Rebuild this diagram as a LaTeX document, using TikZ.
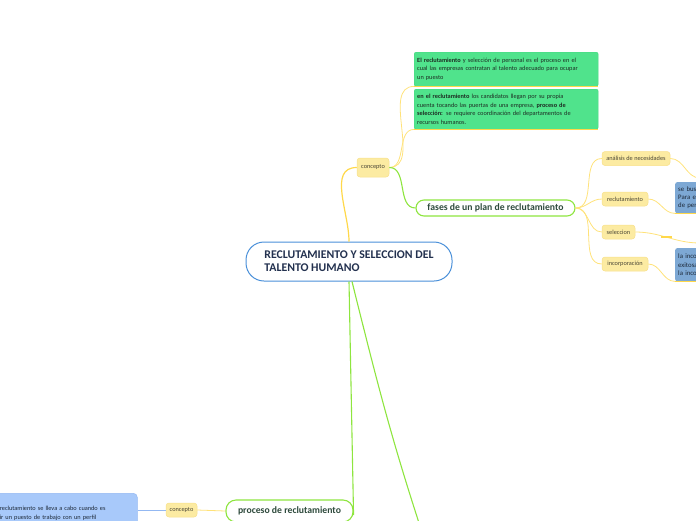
\documentclass[tikz,border=0pt]{standalone}
\usepackage{fontspec}
\setmainfont{Carlito}
\usetikzlibrary{positioning}

\definecolor{rootblue}{HTML}{4A90D9}
\definecolor{rootink}{HTML}{23314F}
\definecolor{limeline}{HTML}{8EE53F}
\definecolor{topicink}{HTML}{2E4A3C}
\definecolor{tagfill}{HTML}{FCEBA2}
\definecolor{tagedge}{HTML}{F8E08A}
\definecolor{tagink}{HTML}{4A4636}
\definecolor{yline}{HTML}{FFE27A}
\definecolor{ylinedeep}{HTML}{FFD84A}
\definecolor{notegreen}{HTML}{50E38C}
\definecolor{notegreenedge}{HTML}{45D57F}
\definecolor{noteink}{HTML}{1E2E24}
\definecolor{steelbox}{HTML}{7DA8D4}
\definecolor{steelink}{HTML}{1E2A3A}
\definecolor{skybox}{HTML}{A8C9FA}
\definecolor{skyedge}{HTML}{93B8F2}

\tikzset{
  rootnode/.style={draw=rootblue, line width=1pt, fill=white, rounded corners=18pt,
    minimum width=206, minimum height=39, align=left, text=rootink,
    font=\fontsize{11.8}{13}\selectfont\bfseries},
  topicnode/.style={draw=limeline, line width=1.1pt, fill=white, rounded corners=8pt,
    minimum height=16, text=topicink, font=\fontsize{9.7}{11}\selectfont\bfseries},
  tagnode/.style={draw=tagedge, line width=0.5pt, fill=tagfill, rounded corners=3pt,
    minimum height=14, inner sep=1pt, text=tagink, font=\fontsize{6.3}{7}\selectfont},
  notenode/.style={draw=notegreenedge, line width=0.4pt, fill=notegreen, rounded corners=2pt,
    anchor=north west, minimum width=184, text width=178, inner xsep=3pt, inner ysep=3pt,
    align=left, text=noteink, font=\fontsize{6.3}{8.5}\selectfont},
  steelnode/.style={fill=steelbox, rounded corners=2pt, anchor=north west, minimum width=40,
    text width=40, inner xsep=3pt, align=left, text=steelink, font=\fontsize{6.8}{8.3}\selectfont},
  skynode/.style={draw=skyedge, line width=0.5pt, fill=skybox, rounded corners=4pt,
    anchor=north west, minimum width=141, minimum height=40, text width=134, inner xsep=3pt,
    inner ysep=4pt, align=left, text=steelink, font=\fontsize{6.3}{9}\selectfont},
  ylink/.style={draw=yline, line width=0.8pt},
  ylinkdeep/.style={draw=ylinedeep, line width=1.2pt},
  glink/.style={draw=limeline, line width=1.1pt},
  blink/.style={draw=skyedge, line width=0.9pt}
}

\begin{document}
\begin{tikzpicture}[x=1pt, y=-1pt]
  \useasboundingbox (0,0) rectangle (696,520);
  \clip (0,0) rectangle (696,520);

  % central topic
  \node[rootnode] (root) at (349,261.5) {RECLUTAMIENTO Y SELECCION DEL\\TALENTO HUMANO};

  % upper branch
  \node[tagnode, minimum width=32, minimum height=19] (concA) at (373,167.5) {concepto};
  \node[notenode, minimum height=34] (defA) at (414,52) {\textbf{El reclutamiento} y selección de personal es el proceso en el\\cual las empresas contratan al talento adecuado para ocupar\\un puesto};
  \node[notenode, minimum height=40] (defB) at (414,89) {\textbf{en el reclutamiento} los candidatos llegan por su propia\\cuenta tocando las puertas de una empresa, \textbf{proceso de}\\\textbf{selección:} se requiere coordinación del departamentos de\\recursos humanos.};
  \node[topicnode, minimum width=159] (fases) at (495.5,208) {fases de un plan de reclutamiento};

  \draw[ylinkdeep] (root.north) to[out=90, in=180] (concA.west);
  \draw[ylink] (concA.east) to[out=0, in=180] (defA.south west);
  \draw[ylink] (concA.east) to[out=0, in=180] (defB.south west);
  \draw[ylinkdeep] (defA.south west) -- (defA.south east);
  \draw[ylinkdeep] (defB.south west) -- (defB.south east);
  \draw[glink] (concA.east) to[out=0, in=180] (fases.west);

  % phases
  \node[tagnode, minimum width=68] (analisis) at (636,158.5) {análisis de necesidades};
  \node[tagnode, minimum width=46] (recl) at (625,199) {reclutamiento};
  \node[tagnode, minimum width=33] (selec) at (618.5,232) {seleccion};
  \node[tagnode, minimum width=46] (incorp) at (625,264) {incorporación};
  \node[steelnode, minimum height=31] (busca) at (675,182) {se busca\\Para el\\de pers};
  \node[steelnode, minimum height=33] (incorpora) at (675,248) {la incor\\exitosa\\la incor};
  \coordinate (analisisEnd) at (700,178);
  \coordinate (selecEnd) at (700,243);
  \coordinate (selecA) at (661,236.5);
  \coordinate (selecB) at (672,236.5);

  \foreach \t in {analisis, recl, selec, incorp}
    \draw[ylink] (fases.east) to[out=0, in=180] (\t.west);
  \draw[ylink] (analisis.east) to[out=0, in=180] (analisisEnd);
  \draw[ylink] (recl.east) to[out=0, in=180] (busca.south west);
  \draw[ylink] (selec.east) to[out=0, in=180] (selecEnd);
  \draw[ylink] (incorp.east) to[out=0, in=180] (incorpora.south west);
  \draw[ylinkdeep] (busca.south west) -- (busca.south east);
  \draw[ylinkdeep] (incorpora.south west) -- (incorpora.south east);
  \draw[ylinkdeep, line width=2pt] (selecA) -- (selecB);

  % lower branch
  \node[topicnode, minimum width=127, minimum height=22, rounded corners=10pt] (proceso) at (289.5,511) {proceso de reclutamiento};
  \node[tagnode, minimum width=31] (concB) at (181.5,510) {concepto};
  \node[skynode] (perfil) at (-4,493) {reclutamiento se lleva a cabo cuando es\\ir un puesto de trabajo con un perfil};
  \coordinate (downEnd) at (420,526);

  \draw[glink] (root.south) -- ([yshift=-4pt]proceso.east);
  \draw[glink] ([xshift=3pt]root.south) to[out=-76, in=108] (downEnd);
  \draw[ylink] (proceso.west) -- (concB.east);
  \draw[blink] (concB.west) -- (perfil.east |- concB.west);
\end{tikzpicture}
\end{document}
